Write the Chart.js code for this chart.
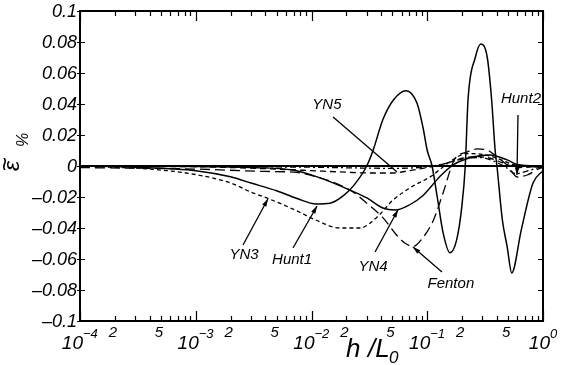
<!DOCTYPE html>
<html>
<head>
<meta charset="utf-8">
<script src="https://cdn.jsdelivr.net/npm/chart.js@4"></script>
<style>
  body { margin: 0; background: #fff; }
</style>
</head>
<body>
<canvas id="grafico" width="562" height="365"></canvas>
<script>
// valores (x = h/L0, y = epsilon %)
var hunt1X = [1e-4, 3e-4, 1e-3, 2e-3, 3e-3, 5e-3, 7.5e-3, 0.011, 0.0145, 0.019, 0.0235, 0.030, 0.034, 0.0414, 0.051, 0.0655, 0.0815, 0.0918, 0.100, 0.110, 0.122, 0.137, 0.157, 0.179, 0.199, 0.213, 0.225, 0.26, 0.29, 0.33, 0.36, 0.386, 0.40, 0.446, 0.49, 0.537, 0.65, 0.82, 1.0];
var hunt1Y = [0, -0.0008, -0.003, -0.007, -0.011, -0.016, -0.021, -0.0245, -0.024, -0.019, -0.012, 0, 0.010, 0.030, 0.0426, 0.0486, 0.0406, 0.025, 0.010, 0, -0.020, -0.043, -0.056, -0.048, -0.026, 0, 0.0426, 0.070, 0.0787, 0.070, 0.0426, 0.010, 0, -0.035, -0.052, -0.069, -0.041, -0.011, -0.003];

var yn3X = [1e-4, 4e-4, 1e-3, 2e-3, 3e-3, 4.1e-3, 5.7e-3, 8e-3, 0.011, 0.0176, 0.0262, 0.0368, 0.0506, 0.075, 0.106, 0.166, 0.22, 0.3, 0.4, 0.55, 1.0];
var yn3Y = [0, -0.002, -0.0055, -0.011, -0.0168, -0.0206, -0.025, -0.030, -0.035, -0.040, -0.040, -0.033, -0.022, -0.013, -0.007, 0.004, 0.008, 0.0075, 0.005, 0.001, -0.001];

var yn4X = [1e-4, 1e-3, 3e-3, 0.0069, 0.0112, 0.0215, 0.0301, 0.0414, 0.0527, 0.0705, 0.092, 0.128, 0.166, 0.248, 0.35, 0.49, 0.6, 1.0];
var yn4Y = [0, -0.0003, -0.001, -0.0026, -0.007, -0.0155, -0.0206, -0.0271, -0.0284, -0.025, -0.019, -0.007, 0.0006, 0.0058, 0.0071, 0.0039, 0.001, 0];

var yn5X = [1e-4, 1e-3, 2e-3, 5e-3, 0.01, 0.02, 0.03, 0.05, 0.07, 0.1, 0.15, 0.2, 0.27, 0.35, 0.45, 0.6, 1.0];
var yn5Y = [0, -0.0005, -0.001, -0.002, -0.003, -0.004, -0.0045, -0.0045, -0.003, -0.001, 0.002, 0.005, 0.006, 0.005, 0.002, -0.001, 0];

var fentonX = [1e-4, 1e-3, 4e-3, 7e-3, 0.011, 0.0215, 0.030, 0.041, 0.055, 0.065, 0.0753, 0.090, 0.113, 0.137, 0.171, 0.22, 0.27, 0.33, 0.40, 0.49, 0.60, 0.73, 0.95, 1.0];
var fentonY = [-0.001, -0.002, -0.0035, -0.004, -0.007, -0.0155, -0.024, -0.033, -0.045, -0.050, -0.052, -0.047, -0.035, -0.0174, 0.0039, 0.009, 0.011, 0.0103, 0.0058, 0.0006, -0.0071, -0.0058, -0.0013, -0.001];

var hunt2X = [1e-4, 1e-3, 0.01, 0.05, 0.1, 0.15, 0.2, 0.28, 0.38, 0.48, 0.58, 0.75, 1.0];
var hunt2Y = [0, -0.0003, -0.0008, -0.0015, -0.0005, 0.002, 0.0045, 0.0055, 0.003, -0.001, -0.005, -0.003, 0];

var zeroX = [1e-4, 1.0];
var zeroY = [0, 0];

// eixos
var yTicks = [0.1, 0.08, 0.06, 0.04, 0.02, 0, -0.02, -0.04, -0.06, -0.08, -0.1];
var yTickLabels = ['0.1', '0.08', '0.06', '0.04', '0.02', '0', '\u20130.02', '\u20130.04', '\u20130.06', '\u20130.08', '\u20130.1'];
var decadas = [1e-4, 1e-3, 1e-2, 1e-1, 1];
var expoentes = ['\u22124', '\u22123', '\u22122', '\u22121', '0'];

// rótulos das curvas: texto, posição do texto, início e fim da seta
var rotulos = ['YN5', 'YN3', 'Hunt1', 'YN4', 'Fenton', 'Hunt2'];
var rotuloPos = [[0.0136, 0.0394], [0.00261, -0.0574], [0.0068, -0.0606], [0.034, -0.0652], [0.160, -0.0761], [0.645, 0.0432]];
var setaDe = [[0.01535, 0.0316], [0.00256, -0.051], [0.00692, -0.0529], [0.0354, -0.0555], [0.134, -0.0684], [0.608, 0.0329]];
var setaAte = [[0.0548, -0.0039], [0.0042, -0.0213], [0.01117, -0.0258], [0.0558, -0.0284], [0.0753, -0.0523], [0.596, -0.0058]];
var comPonta = [false, true, true, true, true, true];

function pontos(xs, ys) {
    var r = [];
    for (var i = 0; i < xs.length; i++) r.push({ x: xs[i], y: ys[i] });
    return r;
}

function serie(xs, ys, dash, largura) {
    return {
        data: pontos(xs, ys),
        borderColor: '#000',
        borderWidth: largura,
        borderDash: dash,
        pointRadius: 0,
        fill: false,
        cubicInterpolationMode: 'monotone'
    };
}

var fonte = '"Liberation Sans", Arial, sans-serif';

var desenhoExtra = {
    id: 'desenhoExtra',
    afterDatasetsDraw: function (chart) {
        var ctx = chart.ctx;
        var sx = chart.scales.x, sy = chart.scales.y;
        var a = chart.chartArea;
        ctx.save();
        ctx.strokeStyle = '#000';
        ctx.fillStyle = '#000';

        // moldura
        ctx.lineWidth = 2;
        ctx.strokeRect(a.left, a.top, a.right - a.left, a.bottom - a.top);

        // ticks do eixo x (dentro, em baixo e em cima)
        ctx.lineWidth = 1.2;
        for (var d = 0; d < decadas.length; d++) {
            for (var m = 1; m <= 9; m++) {
                var v = decadas[d] * m;
                if (v > 1.0001) continue;
                var px = Math.round(sx.getPixelForValue(v)) + 0.5;
                var len = (m == 1) ? 10 : 5;
                ctx.beginPath();
                ctx.moveTo(px, a.bottom); ctx.lineTo(px, a.bottom - len);
                ctx.moveTo(px, a.top); ctx.lineTo(px, a.top + len);
                ctx.stroke();
            }
        }
        // ticks do eixo y
        for (var i = 0; i < yTicks.length; i++) {
            var py = Math.round(sy.getPixelForValue(yTicks[i])) + 0.5;
            ctx.beginPath();
            ctx.moveTo(a.left - 3, py); ctx.lineTo(a.left + 5, py);
            ctx.moveTo(a.right, py); ctx.lineTo(a.right - 5, py);
            ctx.stroke();
        }

        // rótulos y
        ctx.font = 'italic 18px ' + fonte;
        ctx.textAlign = 'right';
        ctx.textBaseline = 'middle';
        for (var i = 0; i < yTicks.length; i++) {
            ctx.fillText(yTickLabels[i], a.left - 3, sy.getPixelForValue(yTicks[i]) + 1);
        }

        // rótulos x: potências de 10
        ctx.textBaseline = 'alphabetic';
        for (var d = 0; d < decadas.length; d++) {
            var px = sx.getPixelForValue(decadas[d]);
            var desloc = (d == decadas.length - 1) ? 7 : 3;
            ctx.font = 'italic 19px ' + fonte;
            ctx.textAlign = 'right';
            ctx.fillText('10', px + desloc, 349);
            ctx.font = 'italic 13px ' + fonte;
            ctx.textAlign = 'left';
            ctx.fillText(expoentes[d], px + desloc, 338);
        }
        // rótulos x: 2 e 5
        ctx.font = 'italic 15px ' + fonte;
        ctx.textAlign = 'center';
        for (var d = 0; d < decadas.length - 1; d++) {
            ctx.fillText('2', sx.getPixelForValue(decadas[d] * 2) - 2, 337);
            ctx.fillText('5', sx.getPixelForValue(decadas[d] * 5) - 2, 337);
        }

        // título x
        ctx.textAlign = 'left';
        ctx.font = 'italic 26px ' + fonte;
        ctx.fillText('h', 346, 357);
        ctx.fillText('/L', 368, 357);
        ctx.font = 'italic 17px ' + fonte;
        ctx.fillText('0', 389, 363);

        // título y (rodado)
        ctx.save();
        ctx.translate(19, 166);
        ctx.rotate(-Math.PI / 2);
        ctx.textAlign = 'center';
        ctx.font = 'italic 23px ' + fonte;
        ctx.fillText('\u03b5', 0, 0);
        ctx.restore();
        ctx.save();
        ctx.translate(6, 164);
        ctx.rotate(-Math.PI / 2);
        ctx.textAlign = 'center';
        ctx.textBaseline = 'middle';
        ctx.font = '24px ' + fonte;
        ctx.fillText('~', 0, 0);
        ctx.restore();
        ctx.save();
        ctx.translate(28, 140);
        ctx.rotate(-Math.PI / 2);
        ctx.textAlign = 'center';
        ctx.font = 'italic 16px ' + fonte;
        ctx.fillText('%', 0, 0);
        ctx.restore();

        // rótulos das curvas e setas
        ctx.font = 'italic 15px ' + fonte;
        ctx.textAlign = 'center';
        ctx.textBaseline = 'middle';
        ctx.lineWidth = 1.3;
        for (var i = 0; i < rotulos.length; i++) {
            ctx.fillText(rotulos[i], sx.getPixelForValue(rotuloPos[i][0]), sy.getPixelForValue(rotuloPos[i][1]));
            var x1 = sx.getPixelForValue(setaDe[i][0]), y1 = sy.getPixelForValue(setaDe[i][1]);
            var x2 = sx.getPixelForValue(setaAte[i][0]), y2 = sy.getPixelForValue(setaAte[i][1]);
            ctx.beginPath();
            ctx.moveTo(x1, y1); ctx.lineTo(x2, y2);
            ctx.stroke();
            if (comPonta[i]) {
                var ang = Math.atan2(y2 - y1, x2 - x1);
                ctx.beginPath();
                ctx.moveTo(x2, y2);
                ctx.lineTo(x2 - 8 * Math.cos(ang - 0.3), y2 - 8 * Math.sin(ang - 0.3));
                ctx.lineTo(x2 - 8 * Math.cos(ang + 0.3), y2 - 8 * Math.sin(ang + 0.3));
                ctx.closePath();
                ctx.fill();
            }
        }
        ctx.restore();
    }
};

new Chart(document.getElementById('grafico'), {
    type: 'line',
    data: {
        datasets: [
            serie(zeroX, zeroY, [], 2),
            serie(yn5X, yn5Y, [6, 4], 1.3),
            serie(hunt2X, hunt2Y, [6, 3, 2, 3], 1.3),
            serie(yn3X, yn3Y, [4, 3], 1.3),
            serie(fentonX, fentonY, [10, 5], 1.3),
            serie(yn4X, yn4Y, [], 1.4),
            serie(hunt1X, hunt1Y, [], 1.5)
        ]
    },
    options: {
        responsive: false,
        animation: false,
        devicePixelRatio: 1,
        layout: { padding: { left: 80, right: 19, top: 11, bottom: 44 } },
        plugins: { legend: { display: false }, tooltip: { enabled: false } },
        scales: {
            x: { type: 'logarithmic', min: 1e-4, max: 1, display: false },
            y: { type: 'linear', min: -0.1, max: 0.1, display: false }
        }
    },
    plugins: [desenhoExtra]
});
</script>
</body>
</html>
